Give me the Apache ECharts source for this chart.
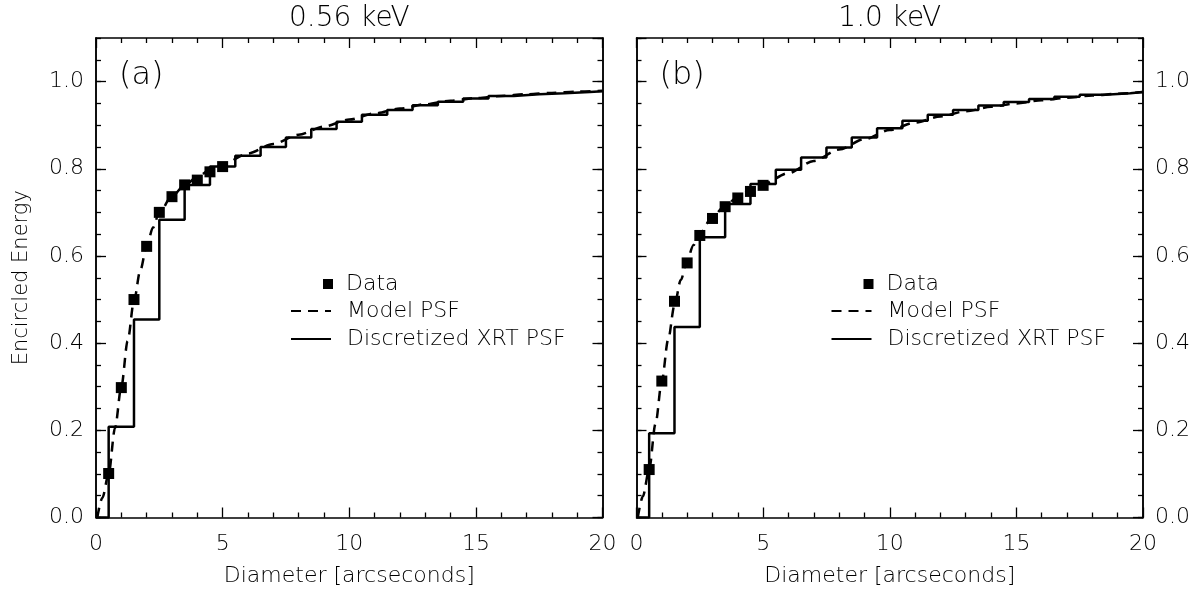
<!DOCTYPE html>
<html><head><meta charset="utf-8">
<script src="https://cdn.jsdelivr.net/npm/echarts@6/dist/echarts.min.js"></script>
<style>html,body{margin:0;padding:0;background:#fff}#c{width:1196px;height:596px}</style>
</head><body><div id="c"></div>
<script>
// ---- data ----
const panelTitles = ['0.56 keV', '1.0 keV'];
const panelLabels = ['(a)', '(b)'];
const seriesNames = ['Data', 'Model PSF', 'Discretized XRT PSF'];
const xTitle = 'Diameter [arcseconds]';
const yTitle = 'Encircled Energy';

const diameters = [0.5, 1.0, 1.5, 2.0, 2.5, 3.0, 3.5, 4.0, 4.5, 5.0];
const dataA = [0.101, 0.298, 0.500, 0.622, 0.700, 0.736, 0.763, 0.774, 0.793, 0.805];
const dataB = [0.110, 0.313, 0.496, 0.584, 0.647, 0.686, 0.713, 0.733, 0.748, 0.762];

const modelX = [0.05, 0.25, 0.5, 0.75, 1.0, 1.25, 1.5, 1.75, 2.0, 2.25, 2.5, 3.0, 3.5, 4.0, 4.5, 5.0,
                6, 7, 8, 9, 10, 11, 12, 13, 14, 15, 16, 17, 18, 19, 20];
const modelA = [0.0, 0.045, 0.10, 0.205, 0.300, 0.405, 0.497, 0.567, 0.622, 0.665, 0.70, 0.737, 0.762, 0.781, 0.797, 0.81,
                0.835, 0.857, 0.878, 0.897, 0.913, 0.927, 0.938, 0.948, 0.956, 0.962, 0.967, 0.971, 0.974, 0.977, 0.979];
const modelB = [0.0, 0.048, 0.11, 0.215, 0.313, 0.408, 0.487, 0.545, 0.59, 0.625, 0.652, 0.69, 0.715, 0.735, 0.751, 0.765,
                0.79, 0.818, 0.844, 0.868, 0.889, 0.906, 0.92, 0.932, 0.942, 0.95, 0.957, 0.963, 0.968, 0.972, 0.976];

const stepEdges = [0, 0.5, 1.5, 2.5, 3.5, 4.5, 5.5, 6.5, 7.5, 8.5, 9.5, 10.5, 11.5, 12.5, 13.5, 14.5, 15.5, 16.5, 17.5, 18.5, 19.5, 20];
const stepA = [0, 0.208, 0.454, 0.683, 0.763, 0.805, 0.830, 0.850, 0.872, 0.891, 0.908, 0.924, 0.935, 0.946, 0.954, 0.961, 0.967, 0.971, 0.973, 0.976, 0.978, 0.978];
const stepB = [0, 0.193, 0.437, 0.643, 0.719, 0.765, 0.798, 0.826, 0.849, 0.872, 0.893, 0.910, 0.924, 0.935, 0.945, 0.953, 0.960, 0.965, 0.970, 0.973, 0.976, 0.976];

// ---- chart ----
const FF = 'DejaVu Sans';
const FW = 200;
const BLACK = '#000';
const zip = (xs, ys) => xs.map((x, i) => [x, ys[i]]);

const grids = [
  {left: 96, right: 593.5, top: 37, bottom: 78.5},
  {left: 636.5, right: 53, top: 37, bottom: 78.5}
];

const lineS = {color: BLACK, width: 1.5};
const tickS = {color: BLACK, width: 1.3};
const txt = (size) => ({fontSize: size, color: BLACK, fontFamily: FF, fontWeight: FW});

function xAxisPair(g) {
  const base = {
    type: 'value', gridIndex: g, min: 0, max: 20, interval: 5,
    axisLine: {show: true, onZero: false, lineStyle: lineS},
    axisTick: {show: true, inside: true, length: 10, lineStyle: tickS},
    minorTick: {show: true, splitNumber: 5, length: 5, lineStyle: tickS},
    splitLine: {show: false}, minorSplitLine: {show: false}
  };
  return [
    Object.assign({}, base, {
      position: 'bottom',
      name: xTitle, nameLocation: 'middle', nameGap: 48,
      nameTextStyle: txt(22),
      axisLabel: Object.assign({show: true, margin: 16}, txt(22))
    }),
    Object.assign({}, base, {
      position: 'top',
      name: panelTitles[g], nameLocation: 'middle', nameGap: 5,
      nameTextStyle: txt(28),
      axisLabel: {show: false}
    })
  ];
}

function yAxisSet(g) {
  const mk = (pos, major, labels) => {
    const a = {
      type: 'value', gridIndex: g, position: pos, min: 0, max: 1.1,
      interval: major ? 0.2 : 0.05,
      axisLine: {show: true, onZero: false, lineStyle: lineS},
      axisTick: {show: true, inside: true, length: major ? 10 : 5, lineStyle: tickS},
      splitLine: {show: false},
      axisLabel: labels ? Object.assign({show: true, margin: 12, showMaxLabel: false,
                           formatter: v => v.toFixed(1)}, txt(22)) : {show: false}
    };
    if (labels && g === 0) {
      a.name = yTitle; a.nameLocation = 'middle'; a.nameGap = 64;
      a.nameTextStyle = txt(21);
    }
    return a;
  };
  return [
    mk('left', true, g === 0), mk('left', false, false),
    mk('right', true, g === 1), mk('right', false, false)
  ];
}

const xAxes = [].concat(xAxisPair(0), xAxisPair(1));
const yAxes = [].concat(yAxisSet(0), yAxisSet(1));

function panelSeries(g, data, model, step) {
  const xi = g * 2, yi = g * 4;
  return [
    {name: seriesNames[2], type: 'line', xAxisIndex: xi, yAxisIndex: yi, step: 'end',
     symbol: 'none', data: zip(stepEdges, step), z: 2,
     lineStyle: {color: BLACK, width: 2.5}, itemStyle: {color: BLACK}},
    {name: seriesNames[1], type: 'line', xAxisIndex: xi, yAxisIndex: yi, smooth: 0.3, smoothMonotone: 'x',
     symbol: 'none', data: zip(modelX, model), z: 3,
     lineStyle: {color: BLACK, width: 2.5, type: [10, 7]}, itemStyle: {color: BLACK}},
    {name: seriesNames[0], type: 'scatter', xAxisIndex: xi, yAxisIndex: yi, symbol: 'rect', symbolSize: 11,
     data: zip(diameters, data), z: 4, itemStyle: {color: BLACK, opacity: 1}}
  ];
}

function legendSet(dx) {
  const mk = (name, left, top, w, h, pad, hideSymbol) => {
    const l = {
      data: [name], left: left + dx, top: top, itemWidth: w, itemHeight: h, padding: 0,
      selectedMode: false, orient: 'horizontal',
      textStyle: Object.assign({padding: [0, 0, 0, pad]}, txt(22))
    };
    if (hideSymbol) l.itemStyle = {color: 'rgba(0,0,0,0)', borderWidth: 0, opacity: 0};
    else l.itemStyle = {opacity: 1};
    return l;
  };
  return [
    mk(seriesNames[0], 323, 273, 10, 10, 8, false),
    mk(seriesNames[1], 290, 300, 40, 14, 11, true),
    mk(seriesNames[2], 290, 328, 40, 14, 11, true)
  ];
}

const option = {
  animation: false,
  backgroundColor: '#fff',
  grid: grids,
  xAxis: xAxes,
  yAxis: yAxes,
  legend: [].concat(legendSet(0), legendSet(540.5)),
  graphic: [
    {type: 'text', x: 119, y: 76, style: {text: panelLabels[0], font: '200 32px "DejaVu Sans"', fill: BLACK, verticalAlign: 'middle'}},
    {type: 'text', x: 659.5, y: 76, style: {text: panelLabels[1], font: '200 32px "DejaVu Sans"', fill: BLACK, verticalAlign: 'middle'}}
  ],
  series: [].concat(panelSeries(0, dataA, modelA, stepA), panelSeries(1, dataB, modelB, stepB))
};

const chart = echarts.init(document.getElementById('c'), null, {renderer: 'canvas'});
chart.setOption(option);
</script>
</body></html>
